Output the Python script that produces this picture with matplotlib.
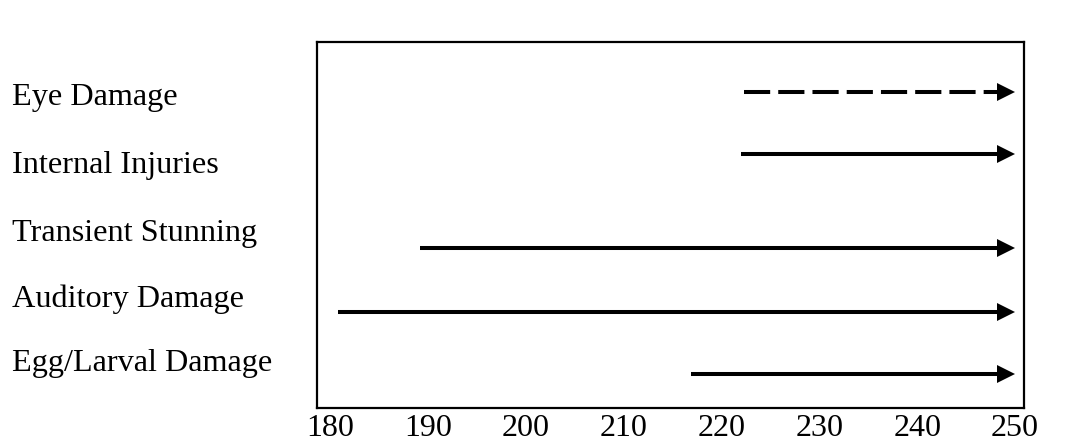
import matplotlib
matplotlib.use("Agg")
import matplotlib.pyplot as plt
from matplotlib.transforms import blended_transform_factory

# Data
categories = ["Eye Damage", "Internal Injuries", "Transient Stunning",
              "Auditory Damage", "Egg/Larval Damage"]
start_values = [222.3, 222.0, 189.2, 180.8, 216.9]
end_values = [250, 250, 250, 250, 250]
dashed = [True, False, False, False, False]
x_ticks = [180, 190, 200, 210, 220, 230, 240, 250]

# Layout (pixel rows inside axes, measured from bottom of axes)
line_rows = [316, 254, 160, 96, 34]
label_rows = [310, 242, 174, 109, 45]
AX_H = 366

plt.rcParams['font.family'] = ['Liberation Serif', 'DejaVu Serif']

fig = plt.figure(figsize=(10.70, 4.47), dpi=100)
fig.patch.set_facecolor('white')
ax = fig.add_axes([317/1070, 1 - 408/447, (1024-317)/1070, (408-42)/447])
ax.set_xlim(178.67, 250.92)
ax.set_ylim(0, AX_H)

head_len = 1.85  # data units for arrow head
for s, e, y, d in zip(start_values, end_values, line_rows, dashed):
    ls = (0, (6.5, 2.0)) if d else '-'
    ax.plot([s, e - head_len], [y, y], color='black', lw=2.9, ls=ls,
            solid_capstyle='butt', dash_capstyle='butt')
    ax.plot([e - head_len / 2], [y], marker='>', ms=13, color='black',
            markeredgewidth=0, linestyle='none')

ax.set_xticks(x_ticks)
ax.set_xticklabels([str(t) for t in x_ticks], fontsize=23)
ax.tick_params(axis='x', length=0, pad=4)
ax.set_yticks([])
for sp in ax.spines.values():
    sp.set_linewidth(1.6)
    sp.set_color('black')

trans = blended_transform_factory(fig.transFigure, ax.transData)
for lab, yy in zip(categories, label_rows):
    ax.text(12/1070, yy, lab, transform=trans, ha='left', va='center',
            fontsize=23.2, color='black')

fig.savefig("out.png", dpi=100, facecolor=fig.get_facecolor())
